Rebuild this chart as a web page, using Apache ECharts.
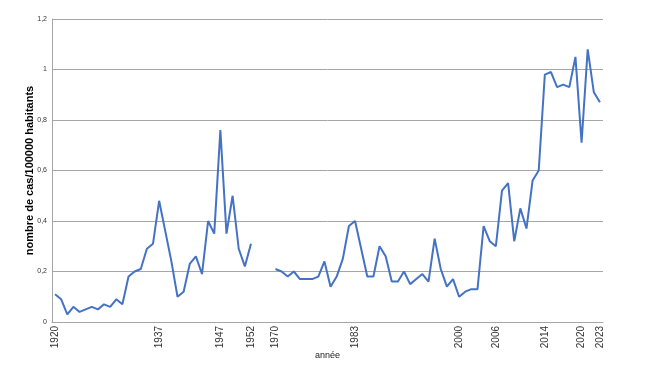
<!DOCTYPE html>
<html>
<head>
<meta charset="utf-8">
<script src="https://cdn.jsdelivr.net/npm/echarts@6/dist/echarts.min.js"></script>
<style>html,body{margin:0;padding:0;background:#fff;}#c{width:652px;height:373px;}</style>
</head>
<body>
<div id="c"></div>
<script>
// Years 1920-1952, then a 3-category gap, then 1970-2023
const yearsEarly = [1920,1921,1922,1923,1924,1925,1926,1927,1928,1929,1930,1931,1932,1933,1934,1935,1936,1937,1938,1939,1940,1941,1942,1943,1944,1945,1946,1947,1948,1949,1950,1951,1952];
const valuesEarly = [0.11,0.09,0.03,0.06,0.04,0.05,0.06,0.05,0.07,0.06,0.09,0.07,0.18,0.20,0.21,0.29,0.31,0.48,0.36,0.24,0.10,0.12,0.23,0.26,0.19,0.40,0.35,0.76,0.35,0.50,0.29,0.22,0.31];
const gapCount = 3;
const yearsLate = [1970,1971,1972,1973,1974,1975,1976,1977,1978,1979,1980,1981,1982,1983,1984,1985,1986,1987,1988,1989,1990,1991,1992,1993,1994,1995,1996,1997,1998,1999,2000,2001,2002,2003,2004,2005,2006,2007,2008,2009,2010,2011,2012,2013,2014,2015,2016,2017,2018,2019,2020,2021,2022,2023];
const valuesLate = [0.21,0.20,0.18,0.20,0.17,0.17,0.17,0.18,0.24,0.14,0.18,0.25,0.38,0.40,0.29,0.18,0.18,0.30,0.26,0.16,0.16,0.20,0.15,0.17,0.19,0.16,0.33,0.21,0.14,0.17,0.10,0.12,0.13,0.13,0.38,0.32,0.30,0.52,0.55,0.32,0.45,0.37,0.56,0.60,0.98,0.99,0.93,0.94,0.93,1.05,0.71,1.08,0.91,0.87];
const labeledYears = [1920,1937,1947,1952,1970,1983,2000,2006,2014,2020,2023];
const yTicks = [0,0.2,0.4,0.6,0.8,1,1.2];

const categories = [].concat(yearsEarly.map(String), Array(gapCount).fill(''), yearsLate.map(String));
const values = [].concat(valuesEarly, Array(gapCount).fill(null), valuesLate);

const chart = echarts.init(document.getElementById('c'));
chart.setOption({
  animation: false,
  grid: {left: 52, right: 49, top: 19, bottom: 51},
  xAxis: {
    type: 'category',
    data: categories,
    boundaryGap: true,
    name: 'année',
    nameLocation: 'middle',
    nameGap: 29,
    nameMoveOverlap: false,
    nameTextStyle: {fontFamily: 'Liberation Sans', fontSize: 9, color: '#222'},
    axisLine: {lineStyle: {color: '#a6a6a6', width: 1}},
    axisTick: {show: false},
    axisLabel: {
      interval: function (i, v) { return labeledYears.indexOf(Number(v)) >= 0 && v !== ''; },
      rotate: 90,
      fontFamily: 'Liberation Sans',
      fontSize: 10,
      color: '#333',
      margin: 4
    },
    splitLine: {show: false}
  },
  yAxis: {
    type: 'value',
    min: 0, max: 1.2, interval: 0.2,
    name: 'nombre de cas/100000 habitants',
    nameLocation: 'middle',
    nameGap: 17,
    nameMoveOverlap: false,
    nameTextStyle: {fontFamily: 'Liberation Sans', fontSize: 11, fontWeight: 'bold', color: '#000'},
    axisLine: {show: true, lineStyle: {color: '#a6a6a6', width: 1}},
    axisTick: {show: false},
    axisLabel: {
      fontFamily: 'Liberation Sans', fontSize: 7, color: '#333', margin: 5,
      formatter: function (v) { return String(Math.round(v * 10) / 10).replace('.', ','); }
    },
    splitLine: {lineStyle: {color: '#a6a6a6', width: 1}}
  },
  series: [{
    type: 'line',
    data: values,
    connectNulls: false,
    showSymbol: false,
    symbol: 'none',
    lineStyle: {color: '#4472C4', width: 2},
    itemStyle: {color: '#4472C4'}
  }]
});
</script>
</body>
</html>
